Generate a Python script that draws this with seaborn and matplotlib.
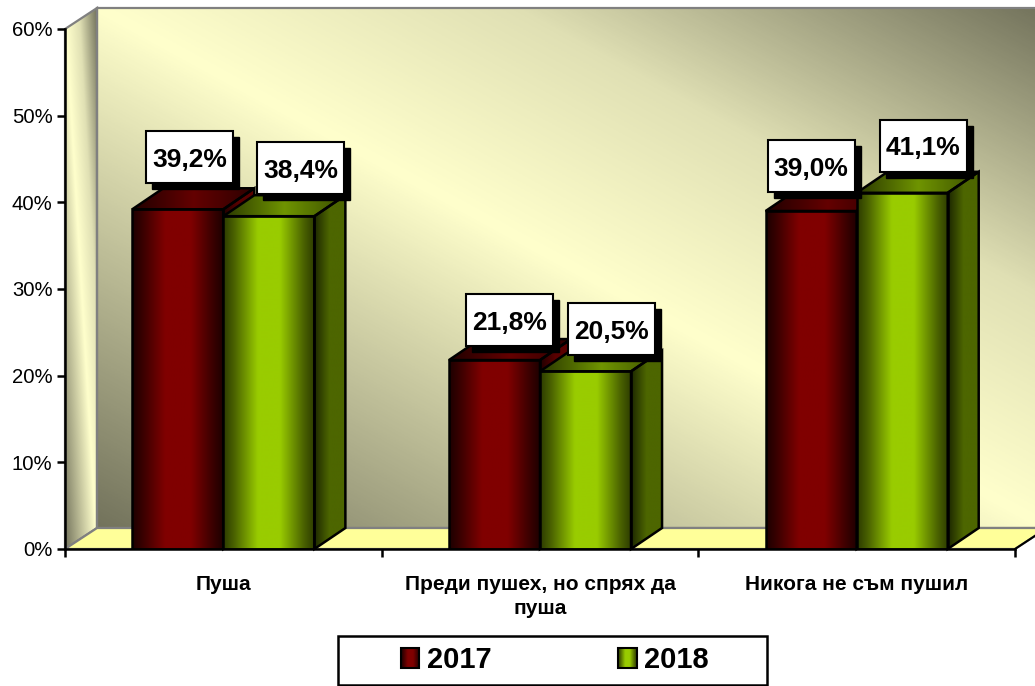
import numpy as np
import pandas as pd
import matplotlib
matplotlib.use("Agg")
import matplotlib.pyplot as plt
import seaborn as sns
from matplotlib.colors import LinearSegmentedColormap as LSC
from matplotlib.patches import Polygon, Rectangle
from matplotlib.transforms import IdentityTransform

categories = ["Пуша", "Преди пушех, но спрях да\nпуша", "Никога не съм пушил"]
values_2017 = [39.2, 21.8, 39.0]
values_2018 = [38.4, 20.5, 41.1]
series_names = ["2017", "2018"]
y_ticks = [0, 10, 20, 30, 40, 50, 60]

# style
DX, DY = 32, 21
BAR_DX = 31
LABEL_OFFSETS = {"2017": [(12, 52), (15, 40), (0, 45)], "2018": [(32, 48), (26, 42), (21, 47)]}
BOX_W, BOX_H = 87, 52
FRONT = {"2017": [(0, "#1c0000"), (0.12, "#3a0000"), (0.36, "#800000"), (0.64, "#800000"), (0.88, "#3a0000"), (1, "#1c0000")],
         "2018": [(0, "#2c3a00"), (0.12, "#4a6200"), (0.38, "#99cc00"), (0.62, "#99cc00"), (0.88, "#4a6200"), (1, "#2c3a00")]}
TOP = {"2017": ["#200000", "#640000", "#2c0000"], "2018": ["#2a3800", "#6f9400", "#3a4d00"]}
SIDE = {"2017": ["#200000", "#5a0000", "#5a0000"], "2018": ["#1c2600", "#4d6600", "#4d6600"]}
WALL = LSC.from_list("wall", [(0, "#73735c"), (0.5, "#ffffcc"), (0.72, "#e0e0b4"), (1, "#73735c")], N=256)

sns.set_theme(style="white")
plt.rcParams["font.family"] = ["Liberation Sans", "DejaVu Sans"]

df = pd.DataFrame({
    "category": categories * 2,
    "share": values_2017 + values_2018,
    "year": [series_names[0]] * 3 + [series_names[1]] * 3,
})

W, H = 1035, 686
fig = plt.figure(figsize=(W / 100, H / 100), dpi=100, facecolor="white")
ax = fig.add_axes([65 / W, (H - 549) / H, 950 / W, 520 / H])
ax.patch.set_visible(False)

sns.barplot(data=df, x="category", y="share", hue="year", order=categories,
            hue_order=series_names, palette=["#800000", "#99cc00"],
            width=0.575, gap=0, ax=ax, saturation=1, errorbar=None)
ax.set_xlim(-0.5, 2.5)
ax.set_ylim(0, 60)
ax.set_xlabel("")
ax.set_ylabel("")
handles, labels = ax.get_legend_handles_labels()
ax.get_legend().remove()

px = lambda x, y: tuple(ax.transData.transform((x, y)))


def gradient(colors, extent, clip=None, zorder=1, array=None):
    if array is None:
        array = np.linspace(0, 1, 256).reshape(1, -1)
        cmap = LSC.from_list("g", colors)
    else:
        cmap = colors
    im = ax.imshow(array, cmap=cmap, vmin=0, vmax=1, extent=extent, origin="lower",
                   aspect="auto", transform=IdentityTransform(), zorder=zorder,
                   interpolation="bilinear")
    if clip is not None:
        ax.add_patch(clip)
        clip.set_visible(False)
        im.set_clip_path(clip)
    else:
        im.set_clip_path(None)
    im.set_clip_box(fig.bbox)
    return im


def poly(points, **kw):
    return Polygon(points, closed=True, transform=IdentityTransform(), clip_on=False, **kw)


def wall_array():
    u, v = np.meshgrid(np.linspace(0, 1, 300), np.linspace(0, 1, 300))
    return (u + v) / 2


x0, y0 = px(-0.5, 0)
x1, y1 = px(2.5, 60)

# left wall, back wall and floor
left_pts = [(x0, y0), (x0 + DX, y0 + DY), (x0 + DX, y1 + DY), (x0, y1)]
gradient(WALL, (x0, x0 + DX, y0, y1 + DY), clip=poly(left_pts), zorder=0.2, array=wall_array())
gradient(WALL, (x0 + DX, x1 + DX, y0 + DY, y1 + DY), zorder=0.1, array=wall_array())
ax.add_patch(poly(left_pts, fill=False, edgecolor="#808080", lw=1.6, zorder=0.4))
ax.add_patch(poly([(x0 + DX, y0 + DY), (x0 + DX, y1 + DY), (x1 + DX, y1 + DY), (x1 + DX, y0 + DY)],
                  fill=False, edgecolor="#808080", lw=1.6, zorder=0.4))
ax.add_patch(poly([(x0, y0), (x0 + DX, y0 + DY), (x1 + DX, y0 + DY), (x1, y0)],
                  facecolor="#ffff99", edgecolor="#808080", lw=1.6, zorder=0.5))
ax.plot([x1, x1 + DX], [y0, y0 + DY], color="black", lw=1.5, transform=IdentityTransform(),
        clip_on=False, zorder=0.6)

# bars with depth, gradients and callouts
z = 1.0
label_items = []
for c in range(len(categories)):
    for s, name in enumerate(series_names):
        bar = ax.containers[s][c]
        value = bar.get_height()
        xa, ya = px(bar.get_x(), 0)
        xb, yb = px(bar.get_x() + bar.get_width(), value)
        side = [(xb, ya), (xb + BAR_DX, ya + DY), (xb + BAR_DX, yb + DY), (xb, yb)]
        top = [(xa, yb), (xb, yb), (xb + BAR_DX, yb + DY), (xa + BAR_DX, yb + DY)]
        gradient(SIDE[name], (xb, xb + BAR_DX, ya, yb + DY), clip=poly(side), zorder=z)
        gradient(TOP[name], (xa, xb + BAR_DX, yb, yb + DY), clip=poly(top), zorder=z + 0.01)
        gradient(FRONT[name], (xa, xb, ya, yb), zorder=z + 0.02)
        for pts in (side, top):
            ax.add_patch(poly(pts, fill=False, edgecolor="black", lw=1.8, zorder=z + 0.03))
        bar.set_facecolor("none")
        bar.set_edgecolor("black")
        bar.set_linewidth(1.8)
        bar.set_zorder(z + 0.04)
        z += 0.1
        dx, dy = LABEL_OFFSETS[name][c]
        label_items.append(((xa + xb) / 2 + dx, yb + dy, f"{value:.1f}%".replace(".", ",")))

for cx, cy, text in label_items:
    z += 0.1
    ax.add_patch(Rectangle((cx - BOX_W / 2 + 6, cy - BOX_H / 2 - 6), BOX_W, BOX_H, facecolor="black",
                           edgecolor="black", transform=IdentityTransform(), clip_on=False, zorder=z))
    ax.add_patch(Rectangle((cx - BOX_W / 2, cy - BOX_H / 2), BOX_W, BOX_H, facecolor="white",
                           edgecolor="black", lw=1.5, transform=IdentityTransform(), clip_on=False,
                           zorder=z + 0.01))
    ax.text(cx, cy, text, ha="center", va="center_baseline", fontsize=19, fontweight="bold", color="black",
            transform=IdentityTransform(), zorder=z + 0.02)

# axes
for name in ("top", "right"):
    ax.spines[name].set_visible(False)
for name in ("left", "bottom"):
    ax.spines[name].set_color("black")
    ax.spines[name].set_linewidth(1.8)
    ax.spines[name].set_zorder(50)
ax.set_yticks(y_ticks)
ax.set_yticklabels([f"{t}%" for t in y_ticks], fontsize=14.6, color="black")
ax.tick_params(axis="y", left=True, length=6, width=1.8, color="black", pad=3)
ax.set_xticks(range(len(categories)))
ax.set_xticklabels(categories, fontsize=15, fontweight="bold", color="black", linespacing=1.3)
ax.set_xticks([-0.5, 0.5, 1.5, 2.5], minor=True)
ax.tick_params(axis="x", which="major", bottom=False, length=0, pad=19)
ax.tick_params(axis="x", which="minor", bottom=True, length=6, width=1.8, color="black")

# legend: frame box and centred entries
LEGEND_BOX = (338, H - 685, 429, 49)
ax.add_patch(Rectangle(LEGEND_BOX[:2], LEGEND_BOX[2], LEGEND_BOX[3], facecolor="white", edgecolor="black",
                       lw=1.8, transform=IdentityTransform(), clip_on=False, zorder=59))
leg = ax.legend(handles, labels, ncol=2, loc="center",
                bbox_to_anchor=(555, H - 660), bbox_transform=IdentityTransform(),
                prop={"weight": "bold", "size": 21}, labelcolor="black", frameon=False,
                borderaxespad=0, borderpad=0, handlelength=0.62, handleheight=0.7,
                handletextpad=0.27, columnspacing=4.35)
leg.set_zorder(60)

fig.canvas.draw()
for patch, name in zip(leg.get_patches(), series_names):
    e = patch.get_window_extent()
    gradient(FRONT[name], (e.x0, e.x1, e.y0, e.y1), zorder=61)
    ax.add_patch(Rectangle((e.x0, e.y0), e.width, e.height, fill=False, edgecolor="black", lw=1.5,
                           transform=IdentityTransform(), clip_on=False, zorder=62))

ax.set_xlim(-0.5, 2.5)
ax.set_ylim(0, 60)
fig.savefig("out.png", dpi=100)
